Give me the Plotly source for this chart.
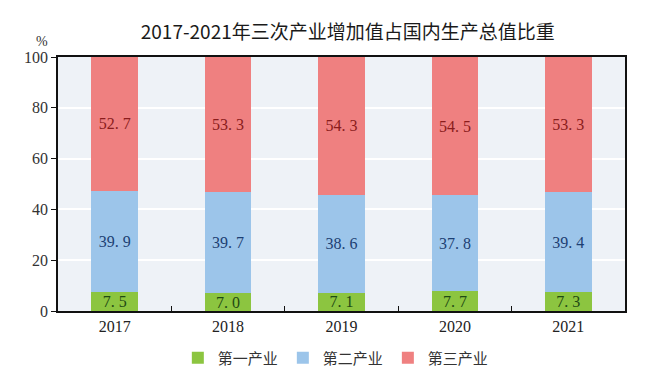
import plotly.graph_objects as go

years = ["2017", "2018", "2019", "2020", "2021"]
primary = [7.5, 7.0, 7.1, 7.7, 7.3]
secondary = [39.9, 39.7, 38.6, 37.8, 39.4]
tertiary = [52.7, 53.3, 54.3, 54.5, 53.3]
names = ["第一产业", "第二产业", "第三产业"]
yticks = [0, 20, 40, 60, 80, 100]

serif = "Liberation Serif, Times New Roman, serif"
cjk = "Noto Sans CJK SC"

fig = go.Figure()
series = [
    (primary, names[0], "#8cc540", "#1f4a14"),
    (secondary, names[1], "#9cc5ea", "#1c3f73"),
    (tertiary, names[2], "#ef8080", "#8a1c1c"),
]
for vals, nm, col, tcol in series:
    fig.add_trace(go.Bar(
        x=years, y=vals, name=nm, marker=dict(color=col, line=dict(width=0)),
        text=[f"{v:.1f}".replace(".", ". ") for v in vals], textposition="inside",
        insidetextanchor="middle", constraintext="none",
        textfont=dict(family=serif, size=16, color=tcol),
    ))

fig.update_layout(
    barmode="stack", bargap=0.59,
    width=650, height=378,
    paper_bgcolor="white", plot_bgcolor="#eef2f7",
    margin=dict(l=58, r=25, t=57, b=67, autoexpand=False),
    title=dict(text="2017-2021年三次产业增加值占国内生产总值比重",
               font=dict(family=cjk, size=19, color="#1a1a1a"),
               x=0.535, xanchor="center", y=0.915, yanchor="middle"),
    showlegend=True,
    legend=dict(orientation="h", x=0.49, xanchor="center", y=-0.185, yanchor="middle",
                traceorder="normal",
                font=dict(family=cjk, size=15, color="#333"), itemwidth=30),
    uniformtext=dict(mode="show", minsize=16),
)
fig.update_yaxes(range=[0, 100], tickvals=yticks, showgrid=True, gridcolor="white",
                 gridwidth=1.5, ticks="outside", ticklen=5, tickcolor="#111",
                 showline=True, linecolor="#111", linewidth=1.5, mirror=True,
                 automargin=False,
                 tickfont=dict(family=serif, size=16, color="#333"), zeroline=False)
fig.update_xaxes(showline=True, linecolor="#111", linewidth=1.5, mirror=True,
                 ticks="inside", ticklen=5, tickcolor="#111", tickson="boundaries",
                 automargin=False,
                 tickfont=dict(family=serif, size=16, color="#222"))
fig.add_annotation(text="%", xref="paper", yref="paper", x=-0.028, y=1.0,
                   xanchor="center", yanchor="bottom", yshift=6, showarrow=False,
                   font=dict(family=serif, size=14, color="#333"))

fig.write_html("out.html", config={"displayModeBar": False},
               post_script="document.body.style.margin='0';")
